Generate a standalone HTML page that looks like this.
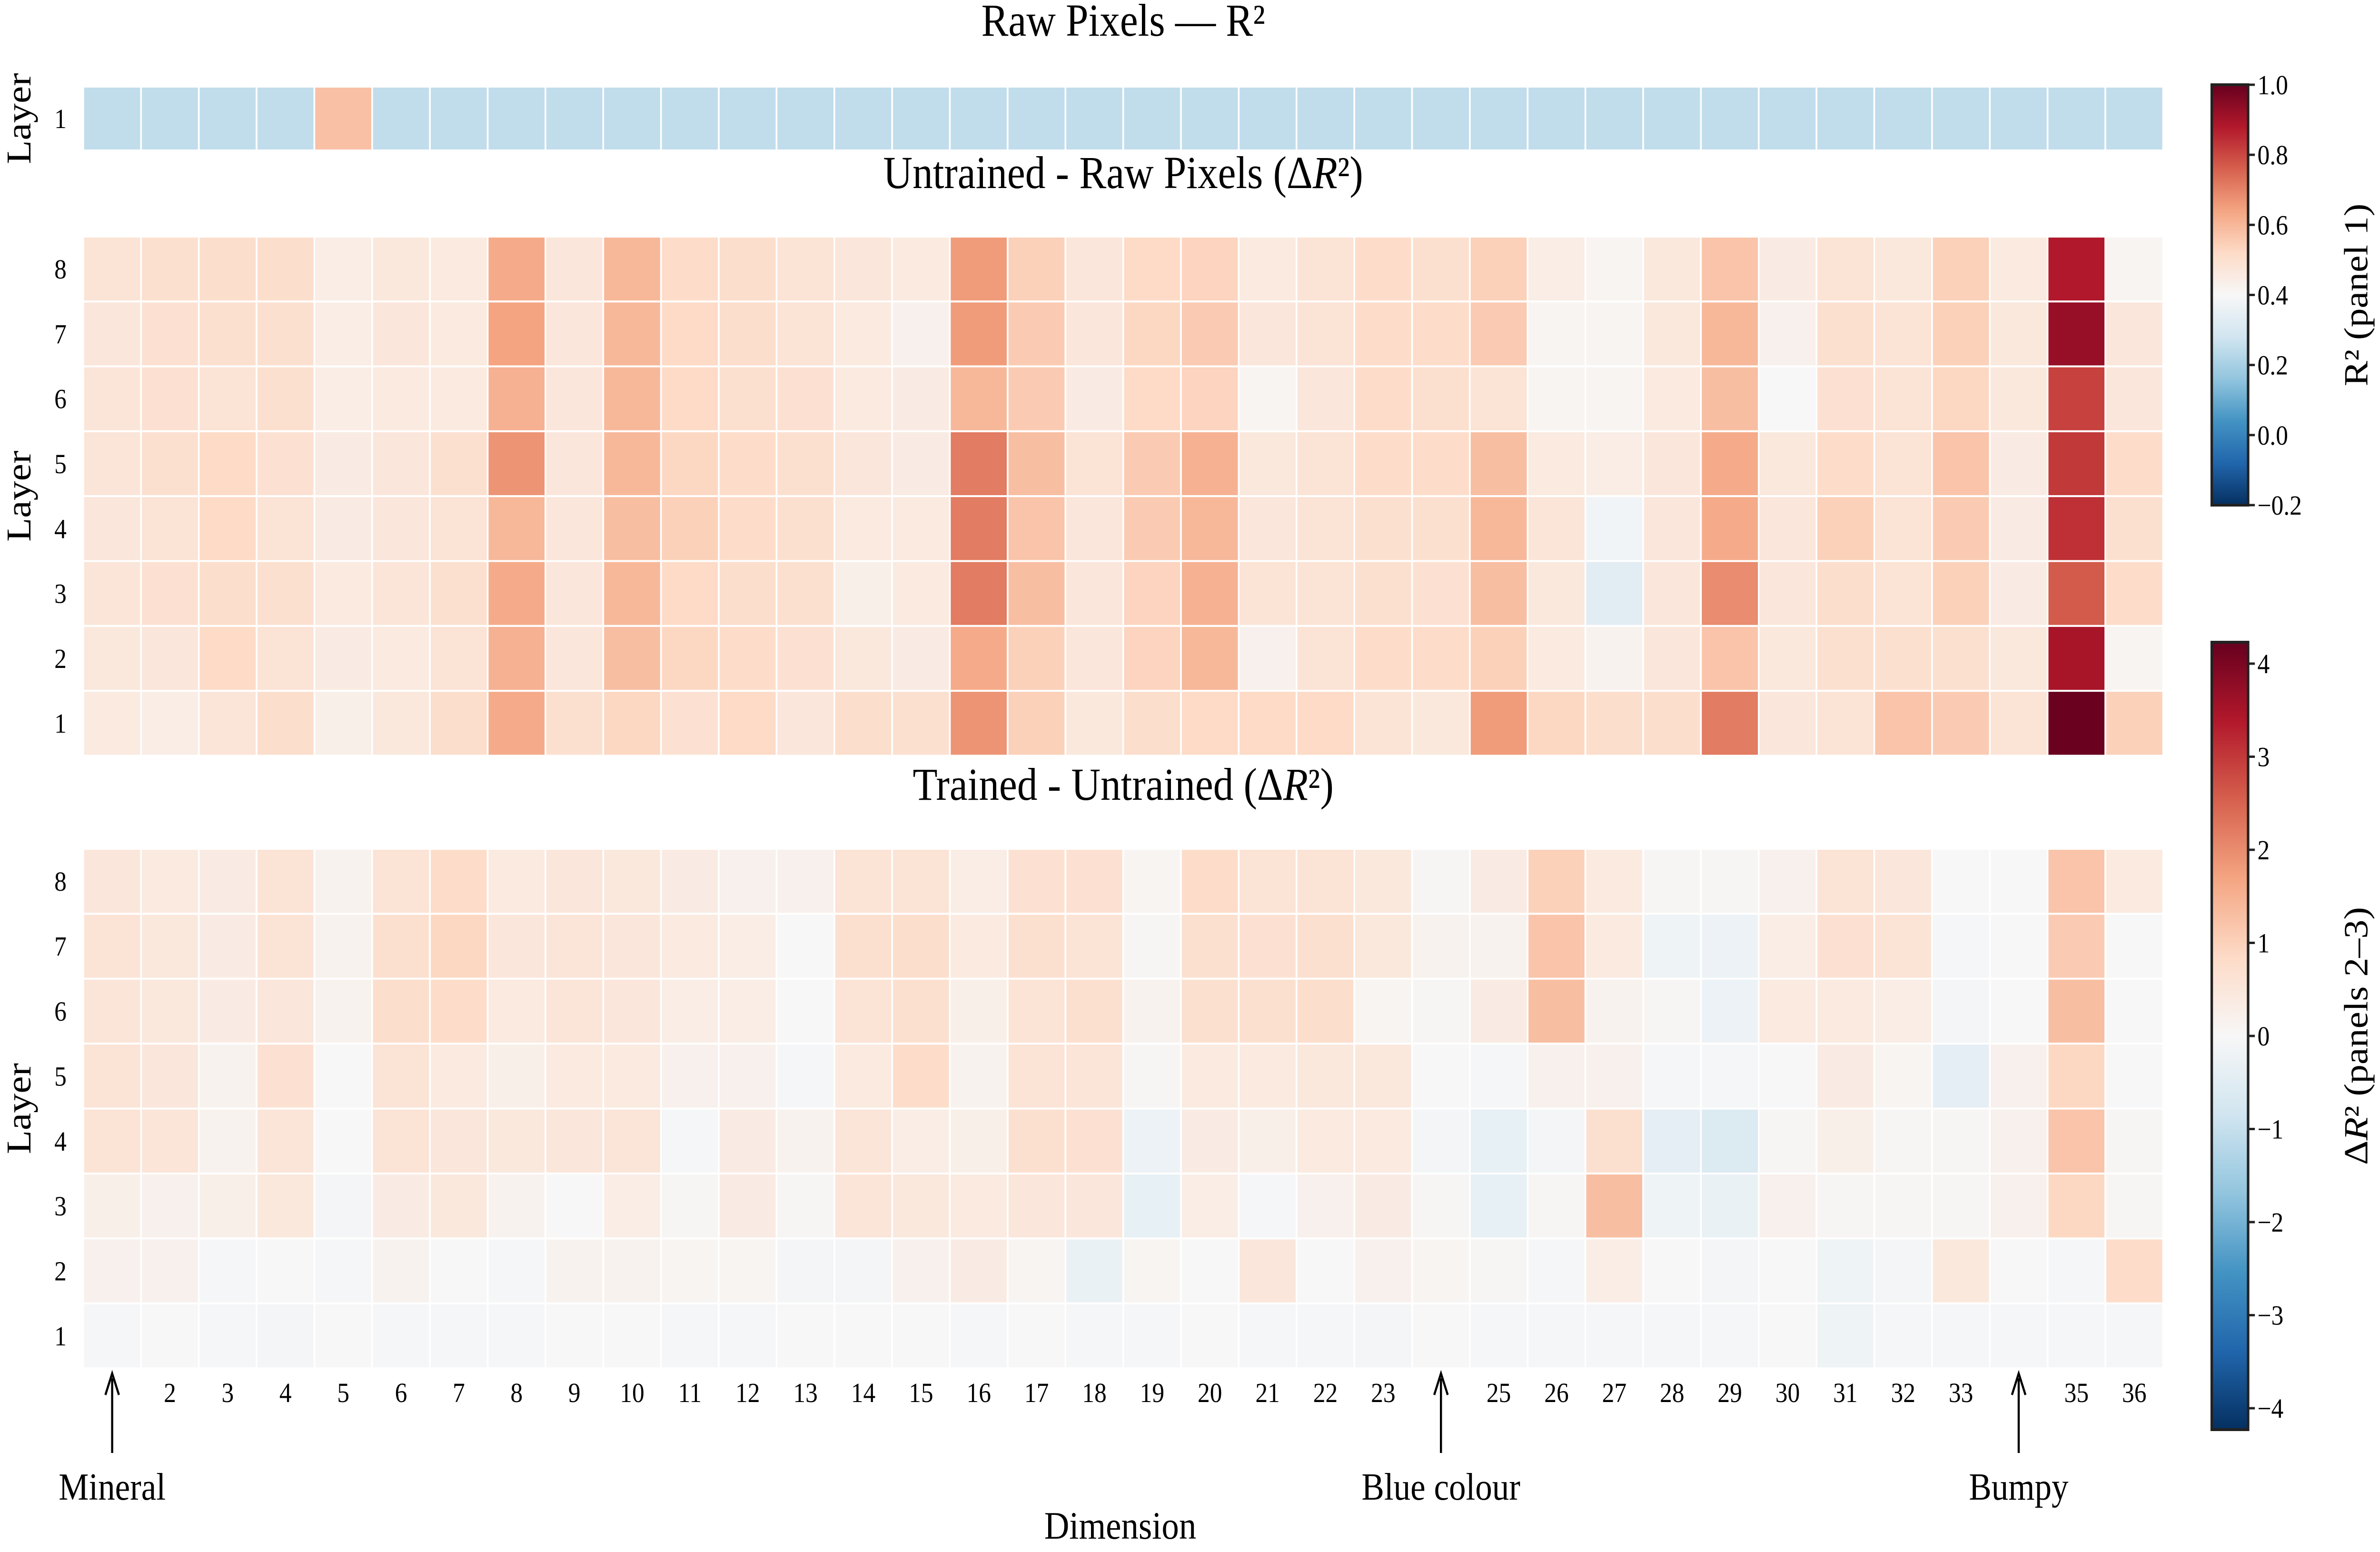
<!DOCTYPE html>
<html><head><meta charset="utf-8"><style>
html,body{margin:0;padding:0;background:#fff;overflow:hidden;width:100%;height:100%}
svg{display:block;width:100vw;height:100vh;font-family:"Liberation Serif","DejaVu Serif",serif}
</style></head><body>
<svg id="chart" viewBox="0 0 5630 3260" preserveAspectRatio="none" xmlns="http://www.w3.org/2000/svg">
<defs>
<linearGradient id="cbgrad" x1="0" y1="1" x2="0" y2="0">
<stop offset="0" stop-color="#053061"/><stop offset="0.1" stop-color="#2166ac"/><stop offset="0.2" stop-color="#4393c3"/><stop offset="0.3" stop-color="#92c5de"/><stop offset="0.4" stop-color="#d1e5f0"/><stop offset="0.5" stop-color="#f7f7f7"/><stop offset="0.6" stop-color="#fddbc7"/><stop offset="0.7" stop-color="#f4a582"/><stop offset="0.8" stop-color="#d6604d"/><stop offset="0.9" stop-color="#b2182b"/><stop offset="1" stop-color="#67001f"/>
</linearGradient>
</defs>
<g id="titles">
<text x="2657" y="75" font-size="96" text-anchor="middle">Raw Pixels — R²</text>
<text x="2657" y="395" font-size="96" text-anchor="middle">Untrained - Raw Pixels (Δ<tspan font-style="italic">R</tspan>²)</text>
<text x="2657" y="1680" font-size="96" text-anchor="middle">Trained - Untrained (Δ<tspan font-style="italic">R</tspan>²)</text>
</g>
<g id="cells"></g>
<g id="axes"></g>
</svg>
<script>
const dims = Array.from({length:36},(_,i)=>i+1);
const layers = [8,7,6,5,4,3,2,1];
const rawR2 = [[0.25,0.25,0.25,0.25,0.58,0.25,0.25,0.25,0.25,0.25,0.25,0.25,0.25,0.25,0.25,0.25,0.25,0.25,0.25,0.25,0.25,0.25,0.25,0.25,0.25,0.25,0.25,0.25,0.25,0.25,0.25,0.25,0.25,0.25,0.25,0.25]];
const untrainedDelta = [
[0.6,0.7,0.75,0.75,0.3,0.45,0.4,1.6,0.5,1.4,0.8,0.75,0.6,0.5,0.4,1.8,1.0,0.5,0.85,0.95,0.4,0.6,0.8,0.7,1.0,0.3,0.1,0.45,1.2,0.35,0.6,0.45,1.0,0.4,3.4,0.1],
[0.5,0.65,0.7,0.7,0.3,0.5,0.4,1.7,0.5,1.4,0.85,0.75,0.6,0.4,0.2,1.8,1.1,0.5,0.9,1.1,0.5,0.6,0.8,0.8,1.1,0.1,0.1,0.45,1.4,0.2,0.7,0.6,1.0,0.45,3.7,0.5],
[0.55,0.65,0.6,0.7,0.3,0.4,0.4,1.5,0.5,1.4,0.85,0.7,0.65,0.4,0.35,1.4,1.1,0.35,0.85,0.95,0.1,0.5,0.8,0.7,0.6,0.1,0.1,0.4,1.3,0.0,0.65,0.6,0.9,0.45,2.9,0.5],
[0.55,0.7,0.85,0.65,0.35,0.5,0.7,1.9,0.5,1.4,0.9,0.8,0.7,0.5,0.35,2.2,1.3,0.6,1.1,1.5,0.45,0.6,0.8,0.8,1.3,0.4,0.3,0.5,1.6,0.45,0.8,0.6,1.2,0.35,3.0,0.8],
[0.5,0.6,0.85,0.6,0.35,0.5,0.6,1.4,0.5,1.3,1.0,0.8,0.7,0.4,0.4,2.2,1.2,0.5,1.1,1.4,0.5,0.6,0.7,0.7,1.4,0.55,-0.15,0.5,1.6,0.5,1.0,0.6,1.1,0.35,3.1,0.7],
[0.55,0.65,0.75,0.7,0.4,0.55,0.7,1.6,0.5,1.4,0.85,0.75,0.7,0.25,0.4,2.2,1.3,0.5,0.95,1.5,0.6,0.6,0.7,0.65,1.3,0.45,-0.5,0.5,2.0,0.5,0.75,0.6,1.0,0.35,2.6,0.8],
[0.45,0.5,0.85,0.6,0.35,0.4,0.6,1.5,0.5,1.3,0.9,0.8,0.65,0.45,0.35,1.6,1.0,0.5,0.95,1.4,0.2,0.6,0.8,0.8,1.0,0.4,0.15,0.5,1.2,0.45,0.7,0.7,0.7,0.45,3.5,0.1],
[0.4,0.3,0.55,0.75,0.25,0.45,0.75,1.6,0.7,0.9,0.65,0.85,0.5,0.75,0.7,1.9,1.0,0.45,0.75,0.85,0.85,0.85,0.6,0.45,1.8,0.9,0.75,0.75,2.2,0.5,0.6,1.2,1.1,0.6,4.2,1.0]];
const trainedDelta = [
[0.5,0.4,0.35,0.6,0.15,0.6,0.8,0.4,0.5,0.45,0.35,0.2,0.2,0.6,0.6,0.3,0.65,0.65,0.1,0.8,0.6,0.6,0.45,0.05,0.35,1.0,0.4,0.05,0.05,0.2,0.6,0.5,0.0,0.0,1.2,0.4],
[0.6,0.45,0.35,0.6,0.15,0.7,0.9,0.5,0.55,0.5,0.4,0.3,0.0,0.7,0.75,0.4,0.7,0.6,0.05,0.7,0.65,0.7,0.45,0.15,0.15,1.2,0.4,-0.2,-0.25,0.3,0.65,0.6,-0.05,0.0,1.1,0.0],
[0.55,0.45,0.35,0.5,0.15,0.75,0.8,0.4,0.55,0.5,0.3,0.3,0.0,0.6,0.7,0.25,0.6,0.7,0.15,0.7,0.7,0.75,0.1,0.05,0.35,1.3,0.15,0.05,-0.25,0.4,0.4,0.3,-0.1,0.0,1.3,0.0],
[0.6,0.5,0.15,0.65,0.0,0.6,0.4,0.25,0.4,0.4,0.2,0.2,-0.05,0.4,0.8,0.15,0.6,0.55,0.05,0.4,0.4,0.45,0.45,0.0,-0.05,0.2,0.2,-0.05,-0.05,0.0,0.35,0.1,-0.4,0.2,0.9,0.0],
[0.6,0.55,0.15,0.55,0.0,0.6,0.5,0.45,0.5,0.55,-0.05,0.35,0.15,0.55,0.3,0.25,0.7,0.65,-0.25,0.35,0.25,0.4,0.4,-0.1,-0.35,-0.1,0.7,-0.4,-0.6,0.05,0.25,0.05,0.05,0.2,1.2,0.05],
[0.25,0.2,0.25,0.45,-0.1,0.35,0.45,0.15,0.0,0.3,0.05,0.35,0.05,0.55,0.45,0.4,0.5,0.5,-0.35,0.3,-0.05,0.2,0.35,0.05,-0.35,0.05,1.3,-0.2,-0.3,0.2,0.05,0.05,0.05,0.2,0.9,0.05],
[0.2,0.2,-0.05,0.0,-0.05,0.15,0.0,-0.05,0.15,0.15,0.1,0.1,-0.1,-0.1,0.2,0.35,0.1,-0.3,0.1,0.0,0.5,0.0,0.2,0.1,0.05,-0.05,0.3,0.0,-0.1,0.0,-0.2,-0.1,0.45,0.0,-0.05,0.8],
[-0.05,0.0,-0.05,-0.1,0.0,-0.05,-0.05,-0.05,0.0,0.0,-0.05,-0.05,0.0,0.0,0.0,-0.05,0.0,-0.05,-0.05,0.0,-0.05,-0.05,-0.1,0.0,-0.05,-0.05,-0.05,-0.05,-0.05,0.0,-0.2,-0.05,-0.05,-0.05,-0.05,-0.05]];
const cb1Ticks = [-0.2,0.0,0.2,0.4,0.6,0.8,1.0];
const cb2Ticks = [-4,-3,-2,-1,0,1,2,3,4];
const annotations = [{dim:1,label:"Mineral"},{dim:24,label:"Blue colour"},{dim:34,label:"Bumpy"}];

const NS="http://www.w3.org/2000/svg";
const stops=["#053061","#2166ac","#4393c3","#92c5de","#d1e5f0","#f7f7f7","#fddbc7","#f4a582","#d6604d","#b2182b","#67001f"];
function hex(h){return [1,3,5].map(i=>parseInt(h.substr(i,2),16));}
function cmap(t){t=Math.max(0,Math.min(1,t));const p=t*10,i=Math.min(9,Math.floor(p)),f=p-i;const a=hex(stops[i]),b=hex(stops[i+1]);return "rgb("+a.map((v,k)=>Math.round(v+(b[k]-v)*f)).join(",")+")";}
const X0=197,X1=5117,CW=(X1-X0)/dims.length;
const xScale=d=>X0+(d-1)*CW;
const R1={min:-0.2,max:1.0}, R2={min:-4.23,max:4.23};
function mk(tag,attrs,parent){const e=document.createElementNS(NS,tag);for(const k in attrs)e.setAttribute(k,attrs[k]);parent.appendChild(e);return e;}
const cells=document.getElementById('cells'), axes=document.getElementById('axes');
function panel(data,rowLabels,y0,rh,range,name){
  const g=mk('g',{},cells);
  
  
  data.forEach((row,r)=>{row.forEach((v,c)=>{
    const rect=mk('rect',{x:xScale(dims[c]),y:y0+r*rh,width:CW,height:rh,fill:cmap((v-range.min)/(range.max-range.min)),stroke:'#fff','stroke-width':4},g);
    
    
  });});
  rowLabels.forEach((l,r)=>{
    const t=mk('text',{x:143,y:y0+r*rh+rh/2+20,'font-size':58,'text-anchor':'middle'},axes);
    t.textContent=l;
    
    
  });
  const yc=y0+data.length*rh/2;
  const lt=mk('text',{x:72,y:yc,'font-size':82,'text-anchor':'middle',transform:'rotate(-90 72 '+yc+')'},axes);
  lt.textContent='Layer';
  
  
}
panel(rawR2,[1],182,134,R1,'raw-pixels-heatmap');
panel(untrainedDelta,layers,497,136.3,R2,'untrained-heatmap');
panel(trainedDelta,layers,1783,136.4,R2,'trained-heatmap');

const annDims=annotations.map(a=>a.dim);
dims.forEach(d=>{
  if(annDims.includes(d))return;
  const t=mk('text',{x:xScale(d)+CW/2,y:2945,'font-size':58,'text-anchor':'middle'},axes);
  t.textContent=d;
  
  
});
annotations.forEach(a=>{
  const x=xScale(a.dim)+CW/2;
  const ln=mk('line',{x1:x,y1:3052,x2:x,y2:2895,stroke:'#000','stroke-width':5},axes);
  
  
  const hd=mk('path',{d:`M${x-16},${2930} L${x},${2885} L${x+16},${2930}`,fill:'none',stroke:'#000','stroke-width':5},axes);
  
  
  const t=mk('text',{x:x,y:3150,'font-size':80,'text-anchor':'middle'},axes);
  t.textContent=a.label;
  
  
});
const xt=mk('text',{x:2650,y:3232,'font-size':82,'text-anchor':'middle'},axes);
xt.textContent='Dimension';



function colorbar(y0,y1,range,ticks,fmt,labelHTML,name){
  const x=5232,w=86;
  const r=mk('rect',{x:x,y:y0,width:w,height:y1-y0,fill:'url(#cbgrad)',stroke:'#222','stroke-width':6},axes);
  
  
  const ys=v=>y1-(v-range.min)/(range.max-range.min)*(y1-y0);
  ticks.forEach(v=>{
    const y=ys(v);
    const tk=mk('line',{x1:x+w,y1:y,x2:x+w+16,y2:y,stroke:'#222','stroke-width':5},axes);
    
    
    const t=mk('text',{x:x+w+22,y:y+20,'font-size':58},axes);
    t.textContent=fmt(v);
    
    
  });
  const yc=(y0+y1)/2;
  const lt=mk('text',{x:5600,y:yc,'font-size':80,'text-anchor':'middle',transform:'rotate(-90 5600 '+yc+')'},axes);
  lt.innerHTML=labelHTML;
  
  
}
colorbar(178,1061,R1,cb1Ticks,v=>v<0?'−'+Math.abs(v).toFixed(1):v.toFixed(1),'R² (panel 1)','colorbar-r2');
colorbar(1349,3003,R2,cb2Ticks,v=>v<0?'−'+Math.abs(v):String(v),'Δ<tspan font-style="italic">R</tspan>² (panels 2–3)','colorbar-delta');
</script>
</body></html>
